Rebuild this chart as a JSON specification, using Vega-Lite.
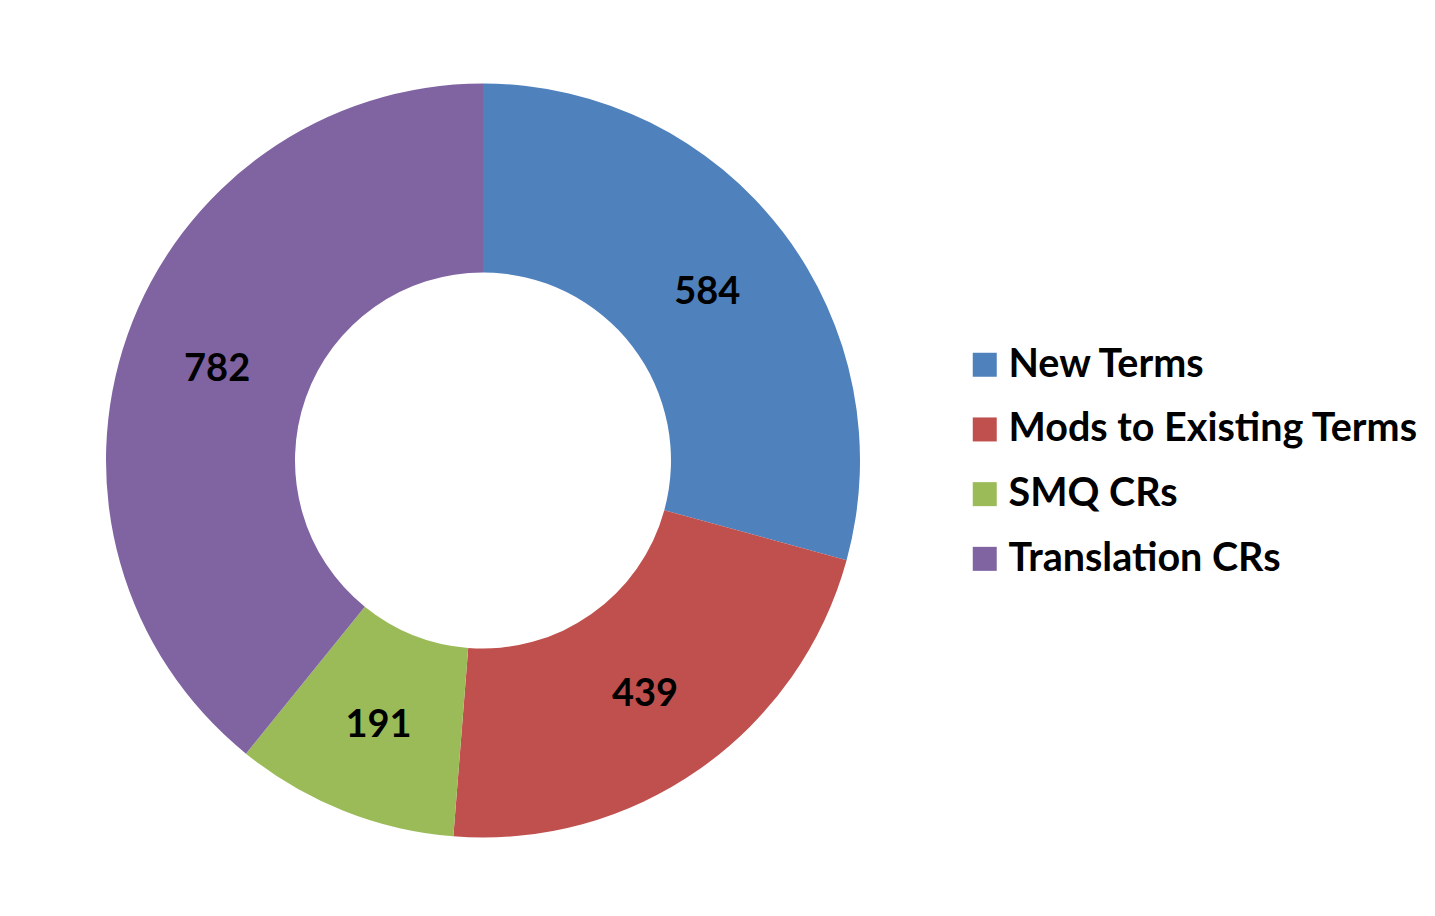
{
  "$schema": "https://vega.github.io/schema/vega-lite/v6.json",
  "width": 966,
  "height": 911,
  "padding": {"left": 0, "top": 5, "right": 0, "bottom": 0},
  "autosize": {"type": "pad"},
  "background": "white",
  "config": {"view": {"stroke": null}},
  "data": {
    "values": [
      {"category": "New Terms", "count": 584, "idx": 1},
      {"category": "Mods to Existing Terms", "count": 439, "idx": 2},
      {"category": "SMQ CRs", "count": 191, "idx": 3},
      {"category": "Translation CRs", "count": 782, "idx": 4}
    ]
  },
  "encoding": {
    "theta": {"field": "count", "type": "quantitative", "stack": true},
    "order": {"field": "idx", "type": "quantitative"},
    "color": {
      "field": "category",
      "type": "nominal",
      "sort": ["New Terms", "Mods to Existing Terms", "SMQ CRs", "Translation CRs"],
      "scale": {
        "domain": ["New Terms", "Mods to Existing Terms", "SMQ CRs", "Translation CRs"],
        "range": ["#4F81BD", "#C0504D", "#9BBB59", "#8064A2"]
      },
      "legend": {
        "title": null,
        "orient": "none",
        "legendX": 965,
        "legendY": 340,
        "symbolType": "square",
        "symbolSize": 576,
        "symbolStrokeWidth": 0,
        "labelFont": "Lato",
        "labelFontWeight": "bold",
        "labelFontSize": 39.5,
        "labelColor": "black",
        "labelOffset": 4,
        "labelLimit": 600,
        "rowPadding": 23.7
      }
    }
  },
  "layer": [
    {"mark": {"type": "arc", "radius": 377, "radius2": 188, "stroke": null}},
    {
      "mark": {"type": "text", "radius": 282, "font": "Lato", "fontWeight": "bold", "fontSize": 38, "color": "black", "baseline": "middle", "align": "center", "dy": 4},
      "encoding": {"text": {"field": "count", "type": "quantitative"}, "color": {"value": "black"}}
    }
  ]
}
